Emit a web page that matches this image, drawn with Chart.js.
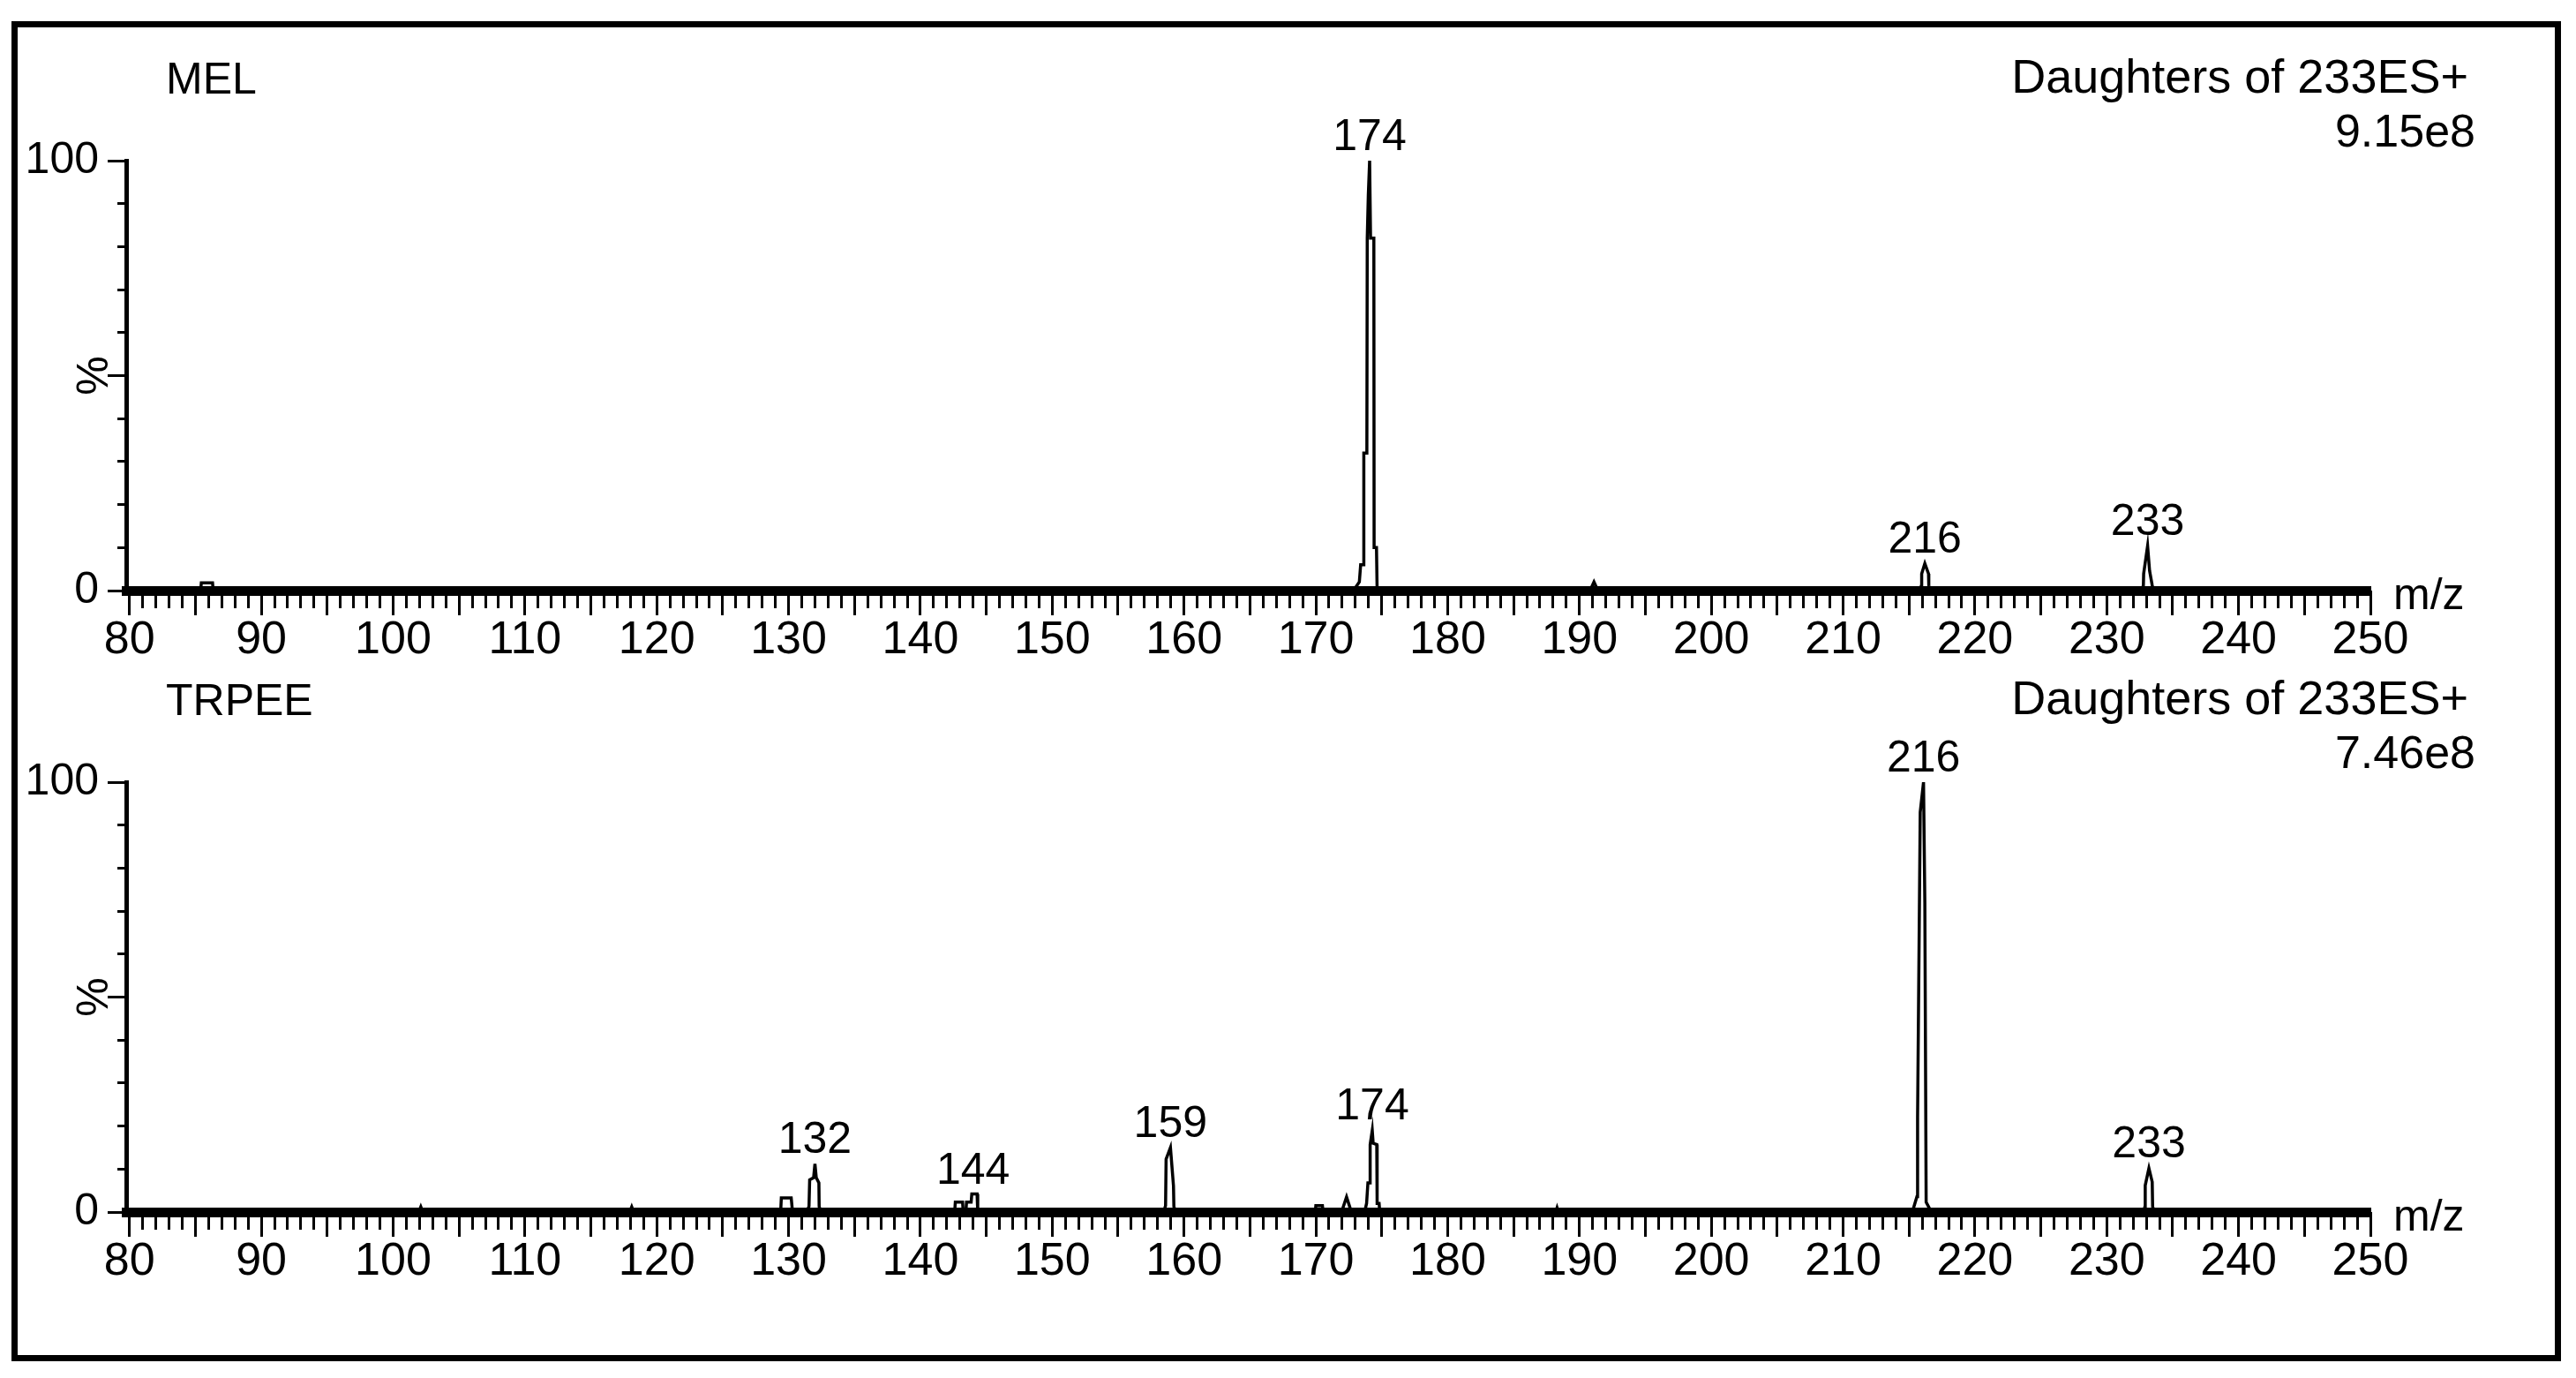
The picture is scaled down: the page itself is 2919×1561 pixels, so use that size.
<!DOCTYPE html>
<html>
<head>
<meta charset="utf-8">
<script src="https://cdn.jsdelivr.net/npm/chart.js@4"></script>
<style>
html,body{margin:0;padding:0;background:#fff;width:2919px;height:1561px;overflow:hidden;}
#frame{position:absolute;left:13px;top:24px;width:2875px;height:1504px;border:7px solid #000;}
.panel{position:absolute;left:0;width:2919px;height:750px;}
#p1{top:0px}
#p2{top:704px}
canvas{display:block;}
</style>
</head>
<body>
<div id="frame"></div>
<div class="panel" id="p1"><canvas id="c1" width="2919" height="750"></canvas></div>
<div class="panel" id="p2"><canvas id="c2" width="2919" height="750"></canvas></div>
<script>
// ---------------- DATA ----------------
const panelNames = ['MEL', 'TRPEE'];
const precursorText = 'Daughters of 233ES+';
const intensityTexts = ['9.15e8', '7.46e8'];
const xAxisTitle = 'm/z';
const yAxisTitle = '%';

// MEL spectrum profile (m/z, relative intensity %)
const melMz = [80,
  85.4, 85.45, 86.3, 86.35,
  172.85, 173.3, 173.4, 173.62, 173.64, 173.87, 173.9, 173.98, 174.08, 174.15, 174.4, 174.42, 174.6, 174.65,
  190.8, 191.1, 191.4,
  215.8, 215.94, 215.96, 216.2, 216.48, 216.5, 216.62,
  232.65, 232.78, 232.8, 233.1, 233.25, 233.45, 233.55,
  250];
const melInt = [0,
  0, 1.8, 1.8, 0,
  0, 2, 6, 6, 32, 32, 82, 92, 100, 82, 82, 10, 10, 0,
  0, 2, 0,
  0, 1.2, 3.9, 6.3, 3.9, 1.2, 0,
  0, 1.2, 3.9, 10.4, 4.6, 1.2, 0,
  0];
const melPeakMz = [174.08, 216.2, 233.1];
const melPeakInt = [100, 6.3, 10.4];
const melPeakText = ['174', '216', '233'];

// TRPEE spectrum profile (m/z, relative intensity %)
const trpeeMz = [80,
  101.95, 102.1, 102.25,
  117.95, 118.1, 118.25,
  129.4, 129.45, 130.2, 130.3,
  131.35, 131.55, 131.6, 131.9, 132.0, 132.1, 132.3, 132.32, 132.45,
  142.6, 142.65, 143.2, 143.25,
  143.45, 143.5, 143.85, 143.9, 144.3, 144.35,
  158.45, 158.6, 158.64, 158.97, 159.2, 159.23, 159.36,
  169.95, 170.0, 170.5, 170.55,
  171.95, 172.33, 172.7,
  173.7, 173.85, 173.95, 174.1, 174.12, 174.28, 174.35, 174.62, 174.65, 174.8, 174.85,
  188.2, 188.3, 188.4,
  215.25, 215.6, 215.65, 215.85, 216.1, 216.2, 216.3, 216.7,
  232.8, 232.9, 232.92, 233.2, 233.45, 233.48, 233.6,
  250];
const trpeeInt = [0,
  0, 1.2, 0,
  0, 1.2, 0,
  0, 3.3, 3.3, 0,
  0, 1.3, 7.5, 8, 11.2, 8, 6.8, 1.3, 0,
  0, 2.3, 2.3, 0,
  0, 2.3, 2.3, 4.2, 4.2, 0,
  0, 1.5, 12.3, 15, 6.1, 1.3, 0,
  0, 1.5, 1.5, 0,
  0, 3.5, 0,
  0, 2, 6.8, 6.8, 15.7, 19, 16, 15.7, 2, 2, 0,
  0, 1, 0,
  0, 3.6, 22, 93, 100, 72, 2.3, 0,
  0, 1.3, 6.2, 10.2, 7, 1.3, 0,
  0];
const trpeePeakMz = [132.0, 144.0, 158.97, 174.28, 216.1, 233.2];
const trpeePeakInt = [11.2, 4.2, 15, 19, 100, 10.2];
const trpeePeakText = ['132', '144', '159', '174', '216', '233'];

// axis ranges / ticks
const xAxisMin = 79.75, xMax = 250, xMajorStep = 5, xMinorStep = 1, xLabelEvery = 10;
const yMin = 0, yMax = 100, yMajorStep = 50, yMinorStep = 10;

// ---------------- STYLE ----------------
const FONT = '"Liberation Sans", Arial, Helvetica, sans-serif';
Chart.defaults.font.family = FONT;
Chart.defaults.color = '#000';

const annotate = {
  id: 'annotate',
  afterDatasetsDraw(chart, args, o) {
    const ctx = chart.ctx, xs = chart.scales.x, ys = chart.scales.y;
    ctx.save();
    ctx.fillStyle = '#000';
    ctx.textBaseline = 'alphabetic';
    ctx.font = '50px ' + FONT;
    ctx.textAlign = 'center';
    o.peakMz.forEach((m, i) => {
      ctx.fillText(o.peakText[i], xs.getPixelForValue(m), ys.getPixelForValue(o.peakInt[i]) - 12);
    });
    ctx.textAlign = 'left';
    ctx.fillText(o.name, 188, 106);
    ctx.textAlign = 'right';
    ctx.font = '54px ' + FONT;
    ctx.fillText(precursorText, 2797, 105);
    ctx.font = '52px ' + FONT;
    ctx.fillText(o.intensity, 2805, 166);
    ctx.font = '50px ' + FONT;
    ctx.textAlign = 'left';
    ctx.fillText(xAxisTitle, 2712, ys.getPixelForValue(0) + 21);
    ctx.translate(108, ys.getPixelForValue(50));
    ctx.rotate(-Math.PI / 2);
    ctx.textAlign = 'center';
    ctx.textBaseline = 'middle';
    ctx.fillText(yAxisTitle, 0, 0);
    ctx.restore();
  }
};

function makePanel(canvasId, name, intensity, mzArr, intArr, pkMz, pkInt, pkText) {
  return new Chart(document.getElementById(canvasId), {
    type: 'line',
    data: {
      datasets: [{
        data: mzArr.map((m, i) => ({x: m, y: intArr[i]})),
        borderColor: '#000', borderWidth: 3.5, pointRadius: 0, fill: false, tension: 0,
        xAxisID: 'x', yAxisID: 'y'
      }]
    },
    options: {
      responsive: false, animation: false, devicePixelRatio: 1,
      layout: {padding: {left: 0, right: 233, top: 182, bottom: 0}},
      plugins: {
        legend: {display: false}, tooltip: {enabled: false}, title: {display: false},
        annotate: {name, intensity, peakMz: pkMz, peakInt: pkInt, peakText: pkText}
      },
      scales: {
        x: {
          type: 'linear', axis: 'x', position: 'bottom', min: xAxisMin, max: xMax,
          ticks: {stepSize: xMajorStep, includeBounds: false, autoSkip: false, maxRotation: 0, minRotation: 0,
            padding: 3, font: {size: 52, lineHeight: 1},
            callback: v => (v % xLabelEvery === 0 ? String(v) : '')},
          grid: {drawOnChartArea: false, drawTicks: true, tickLength: 28, tickWidth: 3, tickColor: '#000'},
          border: {display: true, width: 11, color: '#000'},
          afterFit: s => { s.height = 81; }
        },
        xm: {
          type: 'linear', axis: 'x', position: {y: 0}, min: xAxisMin, max: xMax,
          ticks: {stepSize: xMinorStep, includeBounds: false, display: false, autoSkip: false},
          grid: {drawOnChartArea: false, drawTicks: true, tickLength: 20, tickWidth: 3, tickColor: '#000'},
          border: {display: false}
        },
        y: {
          type: 'linear', axis: 'y', position: 'left', min: yMin, max: yMax,
          ticks: {stepSize: yMajorStep, autoSkip: false, padding: 10, font: {size: 50, lineHeight: 1},
            callback: v => (v === 50 ? '' : String(v))},
          grid: {drawOnChartArea: false, drawTicks: true, tickLength: 21, tickWidth: 3, tickColor: '#000'},
          border: {display: true, width: 5, color: '#000'},
          afterFit: s => { s.width = 143; }
        },
        ym: {
          type: 'linear', axis: 'y', position: {x: xAxisMin}, min: yMin, max: yMax,
          ticks: {stepSize: yMinorStep, display: false, autoSkip: false},
          grid: {drawOnChartArea: false, drawTicks: true, tickLength: 10, tickWidth: 3, tickColor: '#000'},
          border: {display: false}
        }
      }
    },
    plugins: [annotate]
  });
}

makePanel('c1', panelNames[0], intensityTexts[0], melMz, melInt, melPeakMz, melPeakInt, melPeakText);
makePanel('c2', panelNames[1], intensityTexts[1], trpeeMz, trpeeInt, trpeePeakMz, trpeePeakInt, trpeePeakText);
</script>
</body>
</html>
